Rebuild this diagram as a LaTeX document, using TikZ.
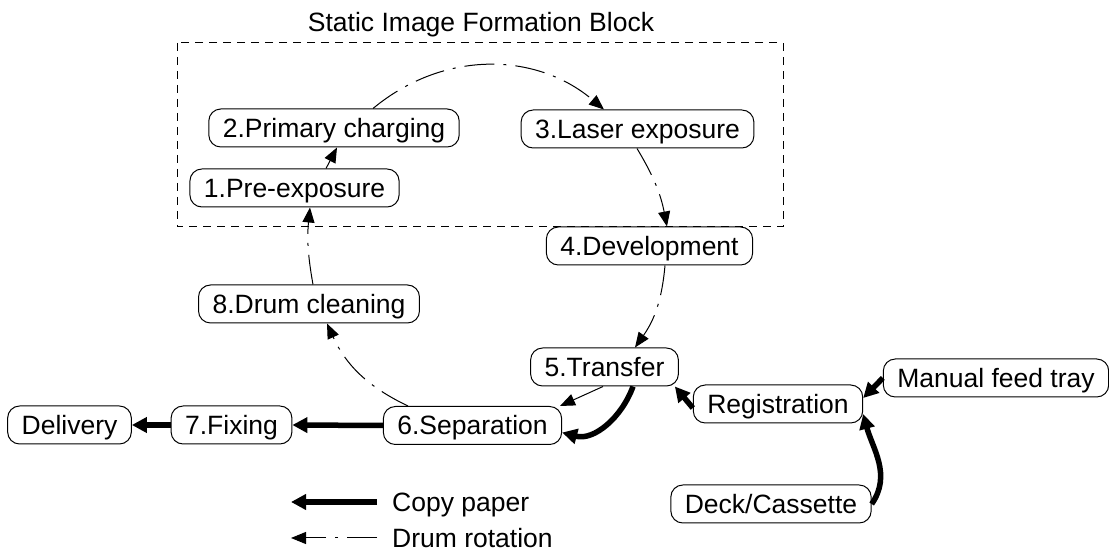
\documentclass[tikz,border=0pt]{standalone}
\usepackage{fontspec}
\setmainfont{Liberation Sans}
\usetikzlibrary{arrows.meta}

\tikzset{
  lbl/.style={font=\fontsize{26.5}{30}\selectfont,text height=19pt,text depth=0pt,inner sep=0pt},
  box/.style={lbl,draw,line width=1pt,rounded corners=12pt,minimum height=38pt,inner xsep=14pt},
  drum/.style={line width=1pt,dash pattern=on 30pt off 9pt on 3pt off 9pt,-{Triangle[length=15pt,width=12pt]}},
  drumshort/.style={line width=1pt,-{Triangle[length=15pt,width=12pt]}},
  paper/.style={line width=5.5pt,-{Triangle[length=15pt,width=15pt]}}
}

\begin{document}
\begin{tikzpicture}[x=1pt,y=1pt]
  \useasboundingbox (0,0) rectangle (1109,554);
  % static image formation block
  \node[lbl] (title) at (481,532) {Static Image Formation Block};
  \draw[line width=1pt,dash pattern=on 8pt off 6pt] (177,511) rectangle (783,327);
  % steps
  \node[box] (1) at (294.5,366) {1.Pre-exposure};
  \node[box] (2) at (334,426) {2.Primary charging};
  \node[box] (3) at (637.5,425) {3.Laser exposure};
  \node[box] (4) at (649.5,308) {4.Development};
  \node[box] (5) at (604.5,187) {5.Transfer};
  \node[box] (6) at (472.5,128.5) {6.Separation};
  \node[box] (7) at (231.5,129) {7.Fixing};
  \node[box] (8) at (309,250) {8.Drum cleaning};
  \node[box] (dlv) at (69.5,129) {Delivery};
  \node[box] (reg) at (778,150) {Registration};
  \node[box] (man) at (996,176) {Manual feed tray};
  \node[box] (deck) at (771,50) {Deck/Cassette};
  % drum rotation
  \draw[drumshort] ([xshift=31.5]1.north) -- ([xshift=3]2.south);
  \draw[drum] ([xshift=39]2.north) to[bend left=40] ([xshift=-33.5]3.north);
  \draw[drum] ([xshift=-0.5]3.south) to[bend left=10] ([xshift=17.5]4.north);
  \draw[drum] ([xshift=15.5]4.south) to[bend left=15] ([xshift=30.5]5.north);
  \draw[drumshort] ([xshift=-1.5]5.south) -- ([xshift=87.5]6.north);
  \draw[drum] ([xshift=-64.5]6.north) to[bend left=20] ([xshift=18]8.south);
  \draw[drum] ([xshift=4]8.north) to[bend left=8] ([xshift=15.5]1.south);
  % copy paper
  \draw[paper] (deck.east) to[out=55,in=-75] ([yshift=-10]reg.east);
  \draw[paper] (man.west) -- ([yshift=6]reg.east);
  \draw[paper] ([yshift=-4]reg.west) -- ([xshift=-4]5.south east);
  \draw[paper] ([xshift=28.5]5.south) to[out=-110,in=-15] ([yshift=-7]6.east);
  \draw[paper] (6.west) -- (7.east);
  \draw[paper] (7.west) -- (dlv.east);
  % legend
  \coordinate (cpa) at (377,52);
  \coordinate (cpb) at (291,52);
  \coordinate (dra) at (377,16);
  \coordinate (drb) at (291,16);
  \draw[paper] (cpa) -- (cpb);
  \draw[drum] (dra) -- (drb);
  \node[lbl,anchor=west] (cpt) at (392,52) {Copy paper};
  \node[lbl,anchor=west] (drt) at (392,16) {Drum rotation};
\end{tikzpicture}
\end{document}
